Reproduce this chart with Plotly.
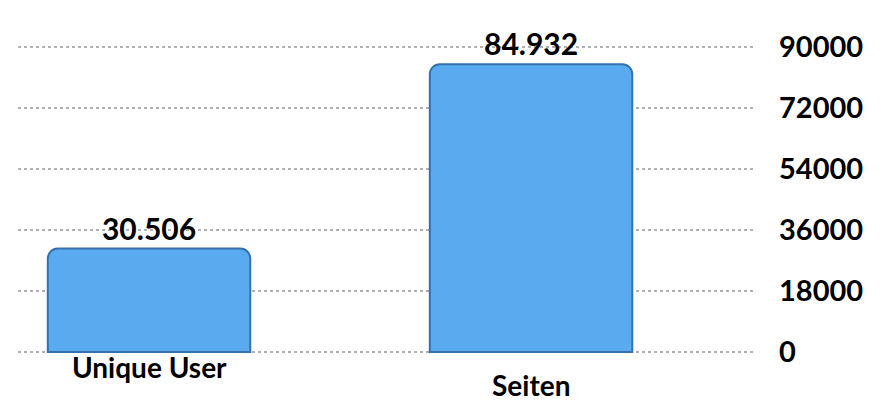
import plotly.graph_objects as go

categories = ["Unique User", "Seiten"]
values = [30506, 84932]
tick_values = [0, 18000, 36000, 54000, 72000, 90000]

FONT = "Lato"

fig = go.Figure()
fig.add_trace(go.Bar(
    x=categories,
    y=values,
    width=0.53,
    marker=dict(color="#59AAEE", line=dict(color="#3572AD", width=2)),
    texttemplate="%{y:,d}",
    textposition="outside",
    textfont=dict(family=FONT, size=30, color="#000000", weight="bold"),
    cliponaxis=False,
    hoverinfo="skip",
))

label_shift = [-15, -33]
for cat, sh in zip(categories, label_shift):
    fig.add_annotation(
        x=cat, y=0, xref="x", yref="y",
        text=cat, showarrow=False, yanchor="middle", yshift=sh,
        borderpad=0,
        font=dict(family=FONT, size=28, color="#000000", weight="bold"),
    )

fig.update_layout(
    width=889, height=403,
    margin=dict(l=10, r=144, t=38, b=58),
    paper_bgcolor="white", plot_bgcolor="white",
    separators=",.",
    barcornerradius=10,
    showlegend=False,
    xaxis=dict(
        range=[-0.343, 1.581],
        showticklabels=False, showgrid=False, zeroline=False, showline=False,
        ticks="",
    ),
    yaxis=dict(
        side="right",
        range=[-300, 90300],
        tickvals=tick_values,
        tickformat="d",
        showgrid=True, gridcolor="#B0B0B0", griddash="dot", gridwidth=2,
        zeroline=False, showline=False, ticks="",
        ticklabelstandoff=25,
        tickfont=dict(family=FONT, size=29, color="#000000", weight="bold"),
    ),
)

fig.write_html("out.html")
